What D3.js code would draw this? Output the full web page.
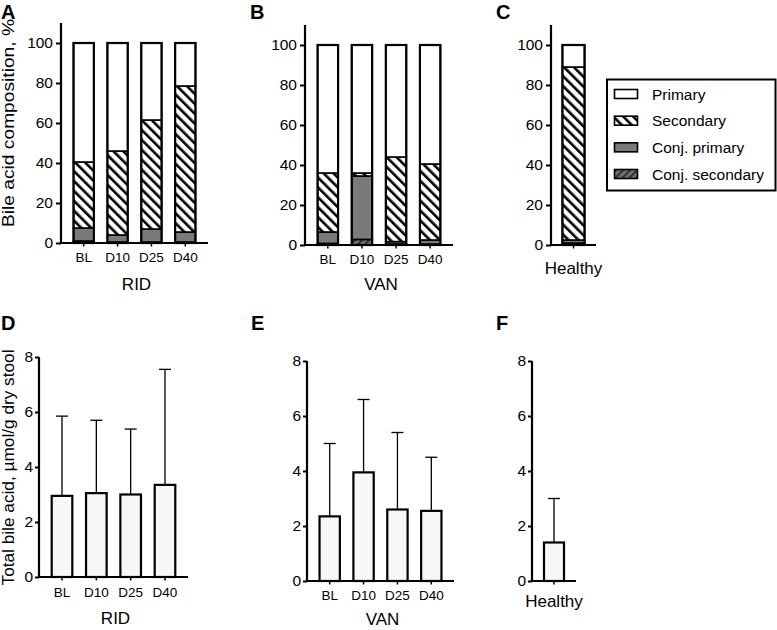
<!DOCTYPE html>
<html><head><meta charset="utf-8">
<script src="https://cdn.jsdelivr.net/npm/d3@7"></script>
<style>
body{margin:0;background:#fff;}
svg{display:block;font-family:"Liberation Sans",Arial,sans-serif;}
svg text{font-family:"Liberation Sans",Arial,sans-serif;}
</style></head>
<body>
<svg id="chart" width="777" height="630"></svg>
<script>
// ---------- DATA ----------
const ridCats = ["BL", "D10", "D25", "D40"];
const vanCats = ["BL", "D10", "D25", "D40"];
const healthyCats = ["Healthy"];
const compSeries = ["Conj. secondary", "Conj. primary", "Secondary", "Primary"]; // bottom -> top
const legendOrder = ["Primary", "Secondary", "Conj. primary", "Conj. secondary"];
const compTicks = [0, 20, 40, 60, 80, 100];
const totalTicks = [0, 2, 4, 6, 8];

// composition (%), RID
const ridConjSecondary = [1.0, 0.5, 0.5, 0.5];
const ridConjPrimary   = [6.5, 3.5, 6.5, 5.0];
const ridSecondary     = [33.0, 42.0, 54.5, 73.0];
const ridPrimary       = [59.5, 54.0, 38.5, 21.5];
// composition (%), VAN
const vanConjSecondary = [0.8, 2.8, 0.5, 0.5];
const vanConjPrimary   = [5.7, 31.7, 1.2, 2.0];
const vanSecondary     = [29.5, 1.5, 42.3, 38.0];
const vanPrimary       = [64.0, 64.0, 56.0, 59.5];
// composition (%), Healthy
const hConjSecondary = [1.0];
const hConjPrimary   = [1.5];
const hSecondary     = [86.5];
const hPrimary       = [11.0];

// total bile acid (µmol/g dry stool): mean and SD
const ridMean = [2.95, 3.05, 3.00, 3.35];
const ridSD   = [2.90, 2.65, 2.38, 4.20];
const vanMean = [2.35, 3.95, 2.60, 2.55];
const vanSD   = [2.65, 2.65, 2.80, 1.95];
const hMean   = [1.40];
const hSD     = [1.60];

// ---------- DRAW ----------
const svg = d3.select("#chart");
const defs = svg.append("defs");

const p1 = defs.append("pattern").attr("id", "hatchSec").attr("patternUnits", "userSpaceOnUse")
  .attr("width", 7).attr("height", 7).attr("patternTransform", "rotate(-45)");
p1.append("rect").attr("width", 7).attr("height", 7).attr("fill", "#fff");
p1.append("rect").attr("x", 0).attr("y", 0).attr("width", 2.6).attr("height", 7).attr("fill", "#000");
const p2 = defs.append("pattern").attr("id", "hatchConjSec").attr("patternUnits", "userSpaceOnUse")
  .attr("width", 5).attr("height", 5).attr("patternTransform", "rotate(45)");
p2.append("rect").attr("width", 5).attr("height", 5).attr("fill", "#6e6e6e");
p2.append("rect").attr("x", 0).attr("y", 0).attr("width", 1.6).attr("height", 5).attr("fill", "#222");

const fills = {
  "Primary": "#ffffff",
  "Secondary": "url(#hatchSec)",
  "Conj. primary": "#7a7a7a",
  "Conj. secondary": "url(#hatchConjSec)"
};

const FONT = "Liberation Sans, Arial, sans-serif";

function panelLetter(t, x, y) {
  svg.append("text").attr("x", x).attr("y", y).attr("font-size", 20).attr("font-weight", "bold").text(t);
}

function yAxis(g, y, x0, ticks, tickSize, pad, fs) {
  const ax = g.append("g").attr("transform", `translate(${x0},0)`)
    .call(d3.axisLeft(y).tickValues(ticks).tickSize(tickSize).tickPadding(pad).tickFormat(d3.format("d")));
  ax.attr("font-family", FONT).attr("font-size", fs);
  ax.select(".domain").attr("stroke-width", 2.2).attr("stroke", "#000")
    .attr("d", `M0,${y.range()[0]}V${y.range()[1]}`);
  ax.selectAll(".tick line").attr("stroke-width", 2).attr("stroke", "#000");
  ax.selectAll(".tick text").attr("font-size", fs).attr("fill", "#000");
}

function xAxis(g, x, y0, x0, x1, labelFs, labelDy) {
  g.append("line").attr("x1", x0 - 1).attr("x2", x1).attr("y1", y0).attr("y2", y0)
    .attr("stroke", "#000").attr("stroke-width", 2.2);
  x.domain().forEach(c => {
    const cx = x(c) + x.bandwidth() / 2;
    g.append("line").attr("x1", cx).attr("x2", cx).attr("y1", y0).attr("y2", y0 + 3.5)
      .attr("stroke", "#000").attr("stroke-width", 1.5);
    g.append("text").attr("x", cx).attr("y", y0 + labelDy).attr("text-anchor", "middle")
      .attr("font-size", labelFs).text(c);
  });
}

function compPanel(opts) {
  const g = svg.append("g");
  const n = opts.cats.length;
  const x = d3.scaleBand().domain(opts.cats).range([opts.x0, opts.x1])
    .paddingInner(0.4).paddingOuter(n === 1 ? 0.31 : 0.37);
  const y = d3.scaleLinear().domain([0, 110]).range([opts.y0, opts.y0 - 220]);
  const rows = opts.cats.map((c, i) => {
    const r = { cat: c };
    compSeries.forEach(s => r[s] = opts.values[s][i]);
    return r;
  });
  const stacked = d3.stack().keys(compSeries)(rows);
  stacked.forEach(layer => {
    g.selectAll(null).data(layer).enter().append("rect")
      .attr("x", d => x(d.data.cat))
      .attr("width", x.bandwidth())
      .attr("y", d => y(d[1]))
      .attr("height", d => Math.max(0, y(d[0]) - y(d[1])))
      .attr("fill", fills[layer.key])
      .attr("stroke", "#000").attr("stroke-width", 1.6);
  });
  g.selectAll(null).data(rows).enter().append("rect")
    .attr("x", d => x(d.cat)).attr("width", x.bandwidth())
    .attr("y", d => y(d3.sum(compSeries, s => d[s])))
    .attr("height", d => y(0) - y(d3.sum(compSeries, s => d[s])))
    .attr("fill", "none").attr("stroke", "#000").attr("stroke-width", 2.2);
  yAxis(g, y, opts.x0, compTicks, 5, 3, 15.5);
  xAxis(g, x, opts.y0, opts.x0, opts.x1, opts.catFs, opts.catDy);
  if (opts.title) g.append("text").attr("x", (opts.x0 + opts.x1) / 2 + 2).attr("y", opts.y0 + opts.titleDy)
    .attr("text-anchor", "middle").attr("font-size", 17).text(opts.title);
}

function totalPanel(opts) {
  const g = svg.append("g");
  const n = opts.cats.length;
  const x = d3.scaleBand().domain(opts.cats).range([opts.x0, opts.x1])
    .paddingInner(0.4).paddingOuter(n === 1 ? 0.36 : 0.37);
  const y = d3.scaleLinear().domain([0, 8]).range([opts.y0, opts.y0 - 220]);
  const rows = opts.cats.map((c, i) => ({ cat: c, mean: opts.mean[i], sd: opts.sd[i] }));
  const eb = g.selectAll(null).data(rows).enter().append("g");
  eb.append("line")
    .attr("x1", d => x(d.cat) + x.bandwidth() / 2).attr("x2", d => x(d.cat) + x.bandwidth() / 2)
    .attr("y1", d => y(d.mean)).attr("y2", d => y(d.mean + d.sd))
    .attr("stroke", "#000").attr("stroke-width", 1.3);
  eb.append("line")
    .attr("x1", d => x(d.cat) + x.bandwidth() / 2 - 6).attr("x2", d => x(d.cat) + x.bandwidth() / 2 + 6)
    .attr("y1", d => y(d.mean + d.sd)).attr("y2", d => y(d.mean + d.sd))
    .attr("stroke", "#000").attr("stroke-width", 1.3);
  g.selectAll(null).data(rows).enter().append("rect")
    .attr("x", d => x(d.cat)).attr("width", x.bandwidth())
    .attr("y", d => y(d.mean)).attr("height", d => y(0) - y(d.mean))
    .attr("fill", "#f7f7f7").attr("stroke", "#000").attr("stroke-width", 2.2);
  yAxis(g, y, opts.x0, totalTicks, 4, 2, 15.5);
  xAxis(g, x, opts.y0, opts.x0, opts.x1, opts.catFs, opts.catDy);
  if (opts.title) g.append("text").attr("x", (opts.x0 + opts.x1) / 2 + 2).attr("y", opts.y0 + opts.titleDy)
    .attr("text-anchor", "middle").attr("font-size", 17).text(opts.title);
}

// ---- Top row ----
compPanel({ cats: ridCats, x0: 61, x1: 208, y0: 243, catFs: 13.5, catDy: 19, title: "RID", titleDy: 47,
  values: { "Conj. secondary": ridConjSecondary, "Conj. primary": ridConjPrimary, "Secondary": ridSecondary, "Primary": ridPrimary } });
compPanel({ cats: vanCats, x0: 305, x1: 453, y0: 245, catFs: 13.5, catDy: 19, title: "VAN", titleDy: 45,
  values: { "Conj. secondary": vanConjSecondary, "Conj. primary": vanConjPrimary, "Secondary": vanSecondary, "Primary": vanPrimary } });
compPanel({ cats: healthyCats, x0: 551, x1: 596, y0: 245, catFs: 17, catDy: 29, title: null,
  values: { "Conj. secondary": hConjSecondary, "Conj. primary": hConjPrimary, "Secondary": hSecondary, "Primary": hPrimary } });

// ---- Bottom row ----
totalPanel({ cats: ridCats, x0: 39, x1: 188, y0: 577, mean: ridMean, sd: ridSD, catFs: 13.5, catDy: 20, title: "RID", titleDy: 47 });
totalPanel({ cats: vanCats, x0: 307, x1: 454, y0: 581, mean: vanMean, sd: vanSD, catFs: 13.5, catDy: 19, title: "VAN", titleDy: 44 });
totalPanel({ cats: healthyCats, x0: 532, x1: 576, y0: 581, mean: hMean, sd: hSD, catFs: 17, catDy: 26, title: null });

// Y labels
svg.append("text").attr("transform", "translate(14,123) rotate(-90)").attr("text-anchor", "middle")
  .attr("font-size", 16).attr("textLength", 208).attr("lengthAdjust", "spacingAndGlyphs")
  .text("Bile acid composition, %");
svg.append("text").attr("transform", "translate(14,467.5) rotate(-90)").attr("text-anchor", "middle")
  .attr("font-size", 16).attr("textLength", 236).attr("lengthAdjust", "spacingAndGlyphs")
  .text("Total bile acid, µmol/g dry stool");

// Panel letters
panelLetter("A", 1, 18.5); panelLetter("B", 250, 18.5); panelLetter("C", 496, 18.5);
panelLetter("D", 1, 330); panelLetter("E", 251, 330); panelLetter("F", 496, 330);

// Legend
const lg = svg.append("g");
lg.append("rect").attr("x", 607).attr("y", 79.5).attr("width", 168.5).attr("height", 111)
  .attr("fill", "#fff").attr("stroke", "#000").attr("stroke-width", 2);
const ly = d3.scalePoint().domain(legendOrder).range([94, 174]);
legendOrder.forEach(k => {
  lg.append("rect").attr("x", 614.5).attr("y", ly(k) - 4.5).attr("width", 23).attr("height", 9)
    .attr("fill", fills[k]).attr("stroke", "#000").attr("stroke-width", 1.6);
  lg.append("text").attr("x", 652).attr("y", ly(k) + 5.5).attr("font-size", 15.5).text(k);
});
</script>
</body></html>
